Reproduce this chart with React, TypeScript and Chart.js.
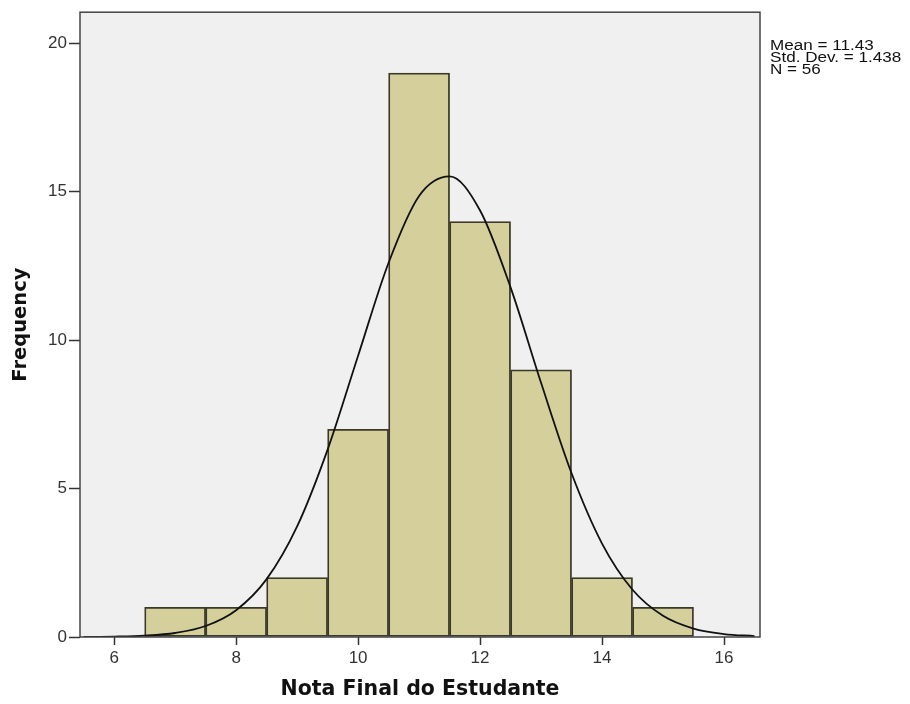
import React, { useEffect, useRef } from "react";
import { Chart, registerables } from "chart.js";

Chart.register(...registerables);

const BIN_CENTERS = [7, 8, 9, 10, 11, 12, 13, 14, 15];
const COUNTS = [1, 1, 2, 7, 19, 14, 9, 2, 1];
const CURVE_X = [5.5, 6, 6.5, 7, 7.5, 8, 8.5, 9, 9.5, 10, 10.5, 11, 11.5, 12, 12.5, 13, 13.5, 14, 14.5, 15, 15.5, 16, 16.5];
const CURVE_Y = [0.003, 0.013, 0.044, 0.135, 0.371, 0.904, 1.949, 3.726, 6.314, 9.478, 12.61, 14.86, 15.52, 14.37, 11.78, 8.563, 5.515, 3.147, 1.591, 0.713, 0.283, 0.1, 0.031];
const X_TICKS = [6, 8, 10, 12, 14, 16];
const Y_TICKS = [0, 5, 10, 15, 20];
const STATS = ["Mean = 11.43", "Std. Dev. = 1.438", "N = 56"];
const X_TITLE = "Nota Final do Estudante";
const Y_TITLE = "Frequency";

const W = 910;
const H = 704;
const AREA = { left: 80, top: 9, right: 760, bottom: 637 };

const framePlugin = {
  id: "frame",
  beforeDatasetsDraw(chart: any) {
    const { ctx, chartArea: a } = chart;
    ctx.save();
    ctx.fillStyle = "#f0f0f0";
    ctx.fillRect(a.left, a.top, a.right - a.left, a.bottom - a.top);
    ctx.restore();
  },
  afterDraw(chart: any) {
    const { ctx, chartArea: a } = chart;
    ctx.save();
    ctx.strokeStyle = "#444444";
    ctx.lineWidth = 1.5;
    ctx.strokeRect(a.left, a.top, a.right - a.left, a.bottom - a.top);
    ctx.restore();
    ctx.save();
    ctx.fillStyle = "#111111";
    ctx.font = "14px 'Liberation Sans', Arial, sans-serif";
    ctx.textBaseline = "top";
    ctx.textAlign = "left";
    ctx.translate(a.right + 10, 39);
    ctx.scale(1.22, 1);
    STATS.forEach((s, i) => ctx.fillText(s, 0, i * 12));
    ctx.restore();
  },
};

const tickFont = { family: "'Liberation Sans', Arial, sans-serif", size: 17 };
const titleFamily = "'DejaVu Sans', Verdana, sans-serif";

export default function App() {
  const ref = useRef<HTMLCanvasElement>(null);
  useEffect(() => {
    document.body.style.margin = "0";
    const chart = new Chart(ref.current as HTMLCanvasElement, {
      type: "bar",
      data: {
        datasets: [
          {
            type: "line",
            data: CURVE_X.map((x, i) => ({ x, y: CURVE_Y[i] })),
            borderColor: "#111111",
            borderWidth: 1.8,
            pointRadius: 0,
            cubicInterpolationMode: "monotone",
            fill: false,
            order: 0,
          } as any,
          {
            type: "bar",
            data: BIN_CENTERS.map((x, i) => ({ x, y: COUNTS[i] })),
            backgroundColor: "#d4cf9b",
            borderColor: "#3a3828",
            borderWidth: 1.8,
            borderSkipped: false,
            barPercentage: 1,
            categoryPercentage: 1,
            order: 1,
          } as any,
        ],
      },
      options: {
        animation: false,
        responsive: false,
        maintainAspectRatio: false,
        layout: { padding: { left: 0, top: AREA.top, right: W - AREA.right, bottom: 0 } },
        plugins: { legend: { display: false }, tooltip: { enabled: false } },
        scales: {
          x: {
            type: "linear",
            min: 5.44,
            max: 16.59,
            offset: false,
            grid: { drawOnChartArea: false, offset: false, tickLength: 8, color: "#333333", tickWidth: 1.5 },
            border: { display: false },
            afterBuildTicks: (s: any) => {
              s.ticks = X_TICKS.map((v) => ({ value: v }));
            },
            afterFit: (s: any) => {
              s.height = H - AREA.bottom;
            },
            ticks: {
              color: "#333333",
              font: tickFont,
              padding: 3,
              maxRotation: 0,
            },
            title: {
              display: true,
              text: X_TITLE,
              color: "#111111",
              font: { family: titleFamily, size: 20.5, weight: "bold" },
              padding: { top: 4, bottom: 2 },
            },
          },
          y: {
            min: 0,
            max: 21.05,
            grid: { drawOnChartArea: false, tickLength: 11, color: "#333333", tickWidth: 1.5 },
            border: { display: false },
            afterBuildTicks: (s: any) => {
              s.ticks = Y_TICKS.map((v) => ({ value: v }));
            },
            afterFit: (s: any) => {
              s.width = AREA.left;
            },
            ticks: {
              color: "#333333",
              font: tickFont,
              padding: 2,
            },
            title: {
              display: true,
              text: Y_TITLE,
              color: "#111111",
              font: { family: titleFamily, size: 19.5, weight: "bold" },
              padding: { top: 9, bottom: 4 },
            },
          },
        },
      },
      plugins: [framePlugin],
    });
    return () => chart.destroy();
  }, []);
  return (
    <div style={{ position: "absolute", left: 0, top: 0, width: W, height: H, background: "#fff" }}>
      <canvas ref={ref} width={W} height={H} style={{ width: W, height: H, display: "block" }} />
    </div>
  );
}
